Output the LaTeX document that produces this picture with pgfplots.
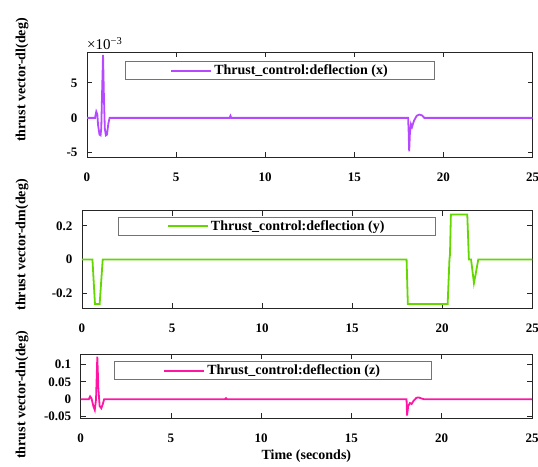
\documentclass[border=0pt]{standalone}
\usepackage{fontspec}
\setmainfont{Liberation Serif}
\usepackage{pgfplots}
\pgfplotsset{compat=1.18}
\definecolor{cx}{RGB}{182,72,255}
\definecolor{cy}{RGB}{100,215,0}
\definecolor{cz}{RGB}{255,20,165}
\pgfplotsset{
  common/.style={
    scale only axis,
    clip mode=individual,
    xmin=0, xmax=25,
    xtick={0,5,10,15,20,25},
    tick align=inside,
    major tick length=5pt,
    axis line style={black!85, line width=0.9pt},
    every tick/.style={black!85, line width=0.9pt},
    /pgf/number format/assume math mode=true,
    ticklabel style={font=\fontsize{13}{15}\selectfont\bfseries},
    xticklabel style={anchor=center, yshift=-20pt},
    yticklabel style={xshift=-6pt},
    legend style={anchor=north west, draw=black!55, line width=0.9pt, fill=white,
      font=\fontsize{14}{16}\selectfont\bfseries, inner xsep=45pt, inner ysep=1.5pt},
    legend image code/.code={\draw[#1, line width=1.8pt] (0pt,0pt)--(40pt,0pt);},
    legend cell align=left,
  },
  ylab/.style 2 args={every axis y label/.style={at={(axis description cs:#1,#2)}, rotate=90, anchor=center, font=\fontsize{14}{16}\selectfont\bfseries}},
}
\begin{document}
\begin{tikzpicture}[x=1pt,y=1pt]
\useasboundingbox (0,0) rectangle (538,466);
% Panel 1
\begin{axis}[common,
  at={(87pt,309pt)}, anchor=south west,
  width=445.5pt, height=105pt,
  ymin=-5.6, ymax=9.43,
  ytick={-5,0,5},
  ylabel={thrust vector-dl(deg)},
  ylab={-0.146}{0.733},
  legend style={at={(rel axis cs:0.0853,0.914)}},
]
\addplot[cx, line width=1.8pt] coordinates {
(0,0) (0.45,0) (0.52,0.9) (0.58,0.5) (0.62,-1.0) (0.7,-2.4) (0.76,-2.5) (0.8,-1.5) (0.86,5) (0.9,9.0) (0.95,3) (1.0,-1.5) (1.06,-2.5) (1.12,-2.4) (1.2,-0.8) (1.27,0)
(8.0,0) (8.05,0.3) (8.1,0) (18.02,0) (18.05,-2) (18.08,-4.8) (18.12,-2.2) (18.18,-0.9) (18.24,-1.3) (18.35,-0.4) (18.5,0.3) (18.65,0.47) (18.8,0.35) (18.93,0) (25,0)};
\addlegendentry{Thrust\_control:deflection (x)}
\node[anchor=south west, inner sep=0pt, font=\fontsize{15}{17}\selectfont] at (rel axis cs:0,1) [yshift=2pt] {×10\textsuperscript{−3}};
\end{axis}
% Panel 2
\begin{axis}[common,
  at={(82pt,157.7pt)}, anchor=south west,
  width=450.3pt, height=97.6pt,
  ymin=-0.29, ymax=0.29,
  ytick={-0.2,0,0.2},
  yticklabel style={/pgf/number format/fixed},
  ylabel={thrust vector-dm(deg)},
  ylab={-0.133}{0.649},
  legend style={at={(rel axis cs:0.0793,0.9385)}, inner xsep=49pt},
]
\addplot[cy, line width=1.8pt] coordinates {
(0,0) (0.58,0) (0.72,-0.265) (0.98,-0.265) (1.15,0) (18.02,0) (18.09,-0.265) (20.3,-0.265) (20.4,0) (20.43,0.03) (20.48,0.267) (21.39,0.267) (21.48,0) (21.6,0) (21.68,-0.07) (21.76,-0.14) (21.85,-0.09) (22.0,0) (25,0)};
\addlegendentry{Thrust\_control:deflection (y)}
\end{axis}
% Panel 3
\begin{axis}[common,
  at={(80.7pt,47.7pt)}, anchor=south west,
  width=451.3pt, height=64pt,
  ymin=-0.055, ymax=0.129,
  ytick={-0.05,0,0.05,0.1},
  yticklabel style={/pgf/number format/fixed},
  ylabel={thrust vector-dn(deg)},
  ylab={-0.130}{0.364},
  xlabel={Time (seconds)},
  every axis x label/.style={at={(axis description cs:0.5,-0.589)}, anchor=center, font=\fontsize{14}{16}\selectfont\bfseries},
  legend style={at={(rel axis cs:0.0738,0.895)}, inner xsep=49pt},
]
\addplot[cz, line width=1.8pt] coordinates {
(0,0) (0.45,0) (0.52,0.008) (0.6,0.002) (0.7,-0.02) (0.78,-0.031) (0.85,0.0) (0.92,0.122) (0.98,0.03) (1.05,-0.02) (1.14,-0.026) (1.22,-0.015) (1.3,0)
(8.0,0) (8.05,0.003) (8.1,0) (18.05,0) (18.08,-0.047) (18.14,-0.02) (18.24,-0.011) (18.33,-0.014) (18.45,-0.004) (18.6,0.004) (18.72,0.005) (18.88,0.002) (19.0,0) (25,0)};
\addlegendentry{Thrust\_control:deflection (z)}
\end{axis}
\end{tikzpicture}
\end{document}
